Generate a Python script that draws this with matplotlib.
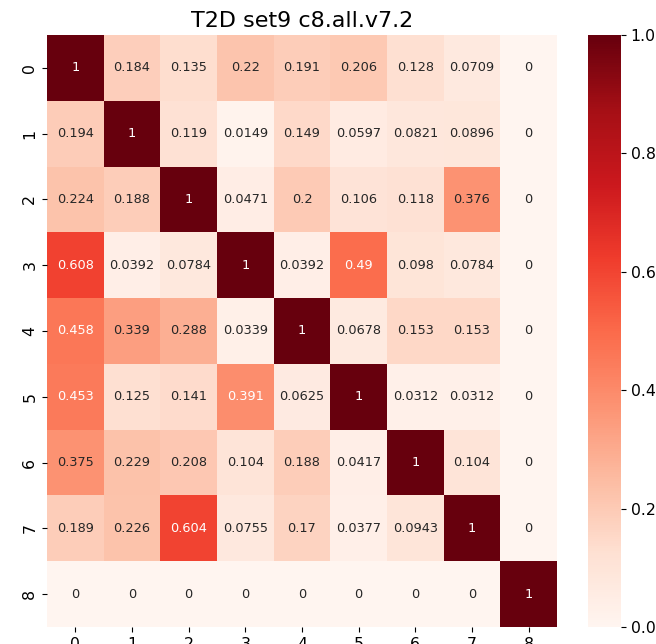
import numpy as np
import matplotlib
matplotlib.use("Agg")
import matplotlib.pyplot as plt
import seaborn as sns

labels = [str(i) for i in range(9)]
row0 = [1, 0.184, 0.135, 0.22, 0.191, 0.206, 0.128, 0.0709, 0]
row1 = [0.194, 1, 0.119, 0.0149, 0.149, 0.0597, 0.0821, 0.0896, 0]
row2 = [0.224, 0.188, 1, 0.0471, 0.2, 0.106, 0.118, 0.376, 0]
row3 = [0.608, 0.0392, 0.0784, 1, 0.0392, 0.49, 0.098, 0.0784, 0]
row4 = [0.458, 0.339, 0.288, 0.0339, 1, 0.0678, 0.153, 0.153, 0]
row5 = [0.453, 0.125, 0.141, 0.391, 0.0625, 1, 0.0312, 0.0312, 0]
row6 = [0.375, 0.229, 0.208, 0.104, 0.188, 0.0417, 1, 0.104, 0]
row7 = [0.189, 0.226, 0.604, 0.0755, 0.17, 0.0377, 0.0943, 1, 0]
row8 = [0, 0, 0, 0, 0, 0, 0, 0, 1]

data = np.array([row0, row1, row2, row3, row4, row5, row6, row7, row8])

fig = plt.figure(figsize=(6.56, 6.44), dpi=100)
W, H = 656, 644
ax = fig.add_axes([47 / W, (H - 627) / H, 510 / W, 592 / H])
cax = fig.add_axes([588 / W, (H - 627) / H, 33 / W, 592 / H])

sns.heatmap(data, annot=True, fmt=".3g", cmap="Reds", vmin=0, vmax=1,
            xticklabels=labels, yticklabels=labels, ax=ax, cbar_ax=cax,
            annot_kws={"fontsize": 9.3})

ax.set_title("T2D set9 c8.all.v7.2", fontsize=16, pad=6)
ax.tick_params(labelsize=11.3)
plt.setp(ax.get_yticklabels(), rotation=90, va="center")
plt.setp(ax.get_xticklabels(), rotation=0)
cax.set_yticks([0, 0.2, 0.4, 0.6, 0.8, 1.0])
cax.set_yticklabels(["0.0", "0.2", "0.4", "0.6", "0.8", "1.0"])
cax.tick_params(labelsize=11.3)

fig.savefig("out.png", dpi=100)
